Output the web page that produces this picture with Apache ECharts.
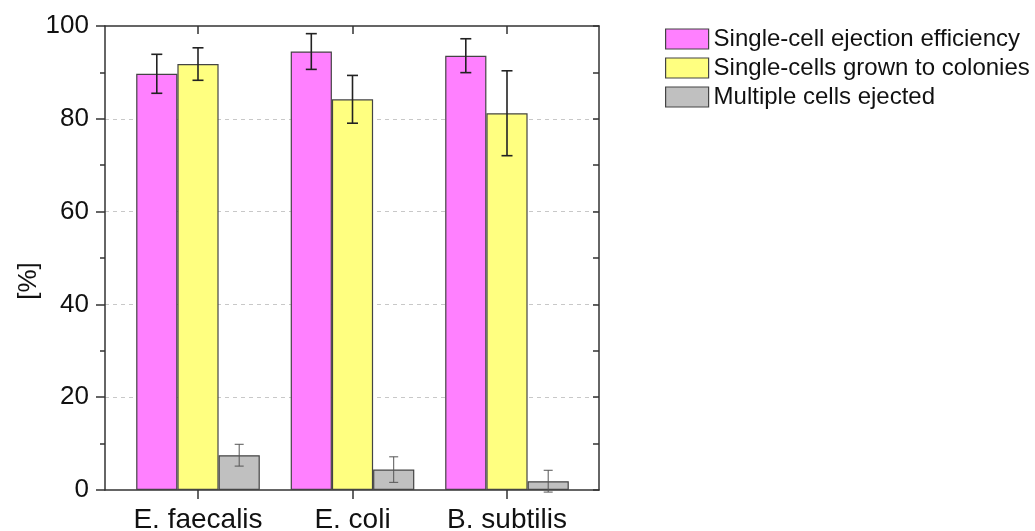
<!DOCTYPE html>
<html>
<head>
<meta charset="utf-8">
<script src="https://cdn.jsdelivr.net/npm/echarts@6/dist/echarts.min.js"></script>
<style>
html,body{margin:0;padding:0;background:#fff;}
#c{width:1035px;height:531px;}
</style>
</head>
<body>
<div id="c"></div>
<script>
var categories = ['E. faecalis', 'E. coli', 'B. subtilis'];
var seriesNames = ['Single-cell ejection efficiency', 'Single-cells grown to colonies', 'Multiple cells ejected'];
var ejection = [89.7, 94.5, 93.6];
var ejectionErr = [4.2, 3.85, 3.65];
var colonies = [91.8, 84.2, 81.2];
var coloniesErr = [3.5, 5.15, 9.15];
var multiple = [7.5, 4.4, 1.9];
var multipleErr = [2.35, 2.75, 2.35];
var yTicks = [0, 20, 40, 60, 80, 100];

var colors = ['#ff80ff', '#ffff80', '#c0c0c0'];
var means = [ejection, colonies, multiple];
var errs = [ejectionErr, coloniesErr, multipleErr];
var FONT = '"Liberation Sans", Arial, sans-serif';
var GROUP = 0.8;

var chart = echarts.init(document.getElementById('c'));

var series = [];
for (var i = 0; i < 3; i++) {
  series.push({
    name: seriesNames[i],
    type: 'bar',
    xAxisIndex: 2,
    yAxisIndex: 2,
    data: means[i],
    barGap: '0%',
    barCategoryGap: ((1 - GROUP) * 100) + '%',
    itemStyle: { color: colors[i], borderColor: '#444', borderWidth: 1.2 },
    z: 2
  });
}
for (var j = 0; j < 3; j++) {
  (function (k) {
    var data = means[k].map(function (m, idx) { return [idx, m - errs[k][idx], m + errs[k][idx]]; });
    var thin = (k === 2);
    series.push({
      type: 'custom',
      name: seriesNames[k] + ' err',
      xAxisIndex: 2,
      yAxisIndex: 2,
      data: data,
      z: 5,
      clip: false,
      silent: true,
      renderItem: function (params, api) {
        var idx = api.value(0);
        var lo = api.coord([idx, api.value(1)]);
        var hi = api.coord([idx, api.value(2)]);
        var band = api.size([1, 0])[0];
        var bw = band * GROUP / 3;
        var x = lo[0] + (k - 1) * bw;
        var cap = thin ? 4.5 : 5.5;
        var st = { stroke: thin ? '#555' : '#222', lineWidth: thin ? 1 : 1.6 };
        return {
          type: 'group',
          children: [
            { type: 'line', shape: { x1: x, y1: lo[1], x2: x, y2: hi[1] }, style: st },
            { type: 'line', shape: { x1: x - cap, y1: lo[1], x2: x + cap, y2: lo[1] }, style: st },
            { type: 'line', shape: { x1: x - cap, y1: hi[1], x2: x + cap, y2: hi[1] }, style: st }
          ]
        };
      },
      encode: { x: 0, y: [1, 2] }
    });
  })(j);
}

var axisLine = { show: true, onZero: false, lineStyle: { color: '#333', width: 1.5 } };
var tickStyle = { color: '#333', width: 1.5 };

chart.setOption({
  animation: false,
  backgroundColor: '#fff',
  grid: [
    { left: 105, right: 436, top: 26, bottom: 41, containLabel: false, outerBoundsMode: 'none' },
    { left: 120.75, right: 450.75, top: 26, bottom: 41, containLabel: false, outerBoundsMode: 'none' }
  ],
  legend: {
    data: seriesNames,
    orient: 'vertical',
    left: 660,
    top: 22,
    itemWidth: 43,
    itemHeight: 20,
    itemGap: 5,
    selectedMode: false,
    icon: 'rect',
    itemStyle: { borderColor: '#444', borderWidth: 1.2 },
    textStyle: { fontFamily: FONT, fontSize: 24, color: '#111', lineHeight: 24, padding: [0, 0, 0, 0] }
  },
  xAxis: [
    {
      type: 'value', gridIndex: 0, min: 0, max: 1, position: 'bottom',
      axisLine: axisLine, axisTick: { show: false }, axisLabel: { show: false }, splitLine: { show: false }
    },
    {
      type: 'value', gridIndex: 0, min: 0, max: 1, position: 'top',
      axisLine: axisLine, axisTick: { show: false }, axisLabel: { show: false }, splitLine: { show: false }
    },
    {
      type: 'category',
      gridIndex: 1,
      data: categories,
      position: 'bottom',
      axisLine: { show: false, onZero: false },
      axisTick: { show: true, alignWithLabel: true, inside: false, length: 9, lineStyle: tickStyle },
      axisLabel: { fontFamily: FONT, fontSize: 28, color: '#111', margin: 16, interval: 0, hideOverlap: false },
      splitLine: { show: false }
    },
    {
      type: 'category',
      gridIndex: 1,
      data: categories,
      position: 'top',
      axisLine: { show: false, onZero: false },
      axisTick: { show: true, alignWithLabel: true, inside: true, length: 8, lineStyle: tickStyle },
      axisLabel: { show: false },
      splitLine: { show: false }
    }
  ],
  yAxis: [
    {
      type: 'value',
      gridIndex: 0,
      min: yTicks[0],
      max: yTicks[yTicks.length - 1],
      interval: 20,
      position: 'left',
      axisLine: axisLine,
      axisTick: { show: true, inside: false, length: 9, lineStyle: tickStyle },
      minorTick: { show: true, splitNumber: 2, length: 5, lineStyle: tickStyle },
      axisLabel: { fontFamily: FONT, fontSize: 26, color: '#111', margin: 16,
        formatter: function (v) { return yTicks.indexOf(v) >= 0 ? String(v) : ''; } },
      splitLine: {
        show: true,
        lineStyle: { color: '#c8c8c8', type: [4, 4], width: 1 },
        showMinLine: false, showMaxLine: false
      }
    },
    {
      type: 'value',
      gridIndex: 0,
      min: 0,
      max: 100,
      interval: 10,
      position: 'right',
      axisLine: axisLine,
      axisTick: { show: true, inside: true, length: 6, lineStyle: tickStyle },
      axisLabel: { show: false },
      splitLine: { show: false }
    },
    {
      type: 'value',
      gridIndex: 1,
      min: 0,
      max: 100,
      show: false
    }
  ],
  graphic: [
    {
      type: 'text',
      x: 29, y: 281,
      rotation: Math.PI / 2,
      style: { text: '[%]', fontFamily: FONT, fontSize: 26, fill: '#111', textAlign: 'center', textVerticalAlign: 'middle' }
    }
  ],
  series: series
});
</script>
</body>
</html>
